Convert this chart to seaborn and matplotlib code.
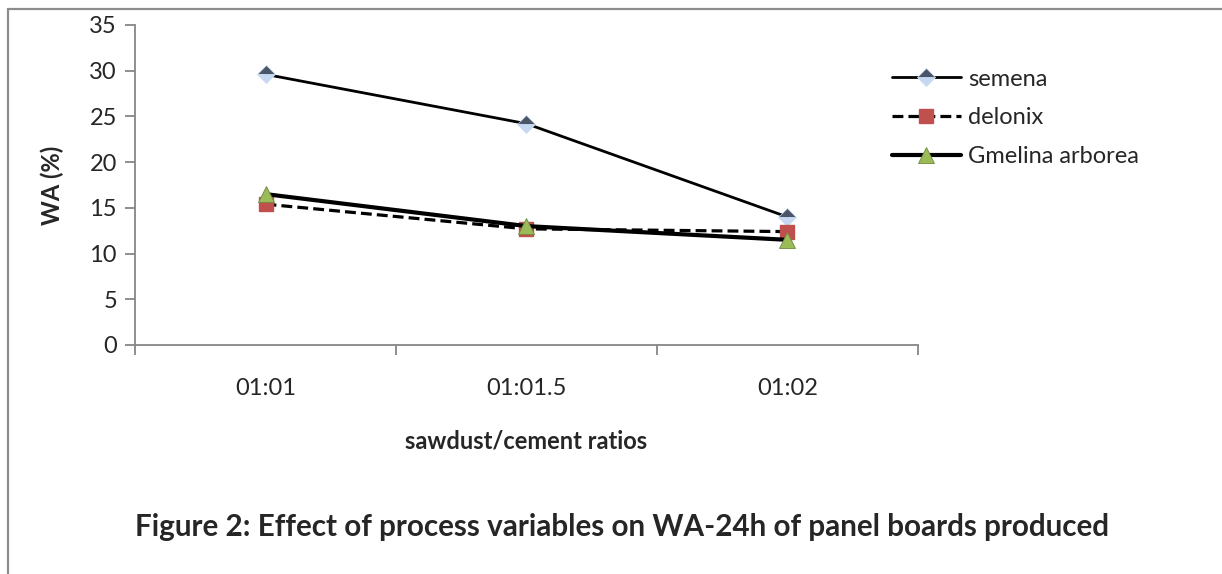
import pandas as pd
import matplotlib.pyplot as plt
import seaborn as sns
from matplotlib.lines import Line2D
from matplotlib.ticker import FixedLocator, NullFormatter

# データ
ratios = ['01:01', '01:01.5', '01:02']
semena = [29.6, 24.2, 14.0]
delonix = [15.4, 12.7, 12.4]
gmelina = [16.5, 13.0, 11.5]
series_names = ['semena', 'delonix', 'Gmelina arborea']

df = pd.DataFrame({
    'ratio': ratios * 3,
    'WA': semena + delonix + gmelina,
    'species': [n for n in series_names for _ in ratios],
})

sns.set_style('white')
plt.rcParams['font.family'] = ['Lato', 'DejaVu Sans']

fig = plt.figure(figsize=(12.22, 5.74), dpi=100)
ax = fig.add_axes([0.1105, 0.399, 0.6407, 0.5575])

grey = '#868686'
fs = 17
styles = {
    'semena': dict(color='black', lw=2.0, ls='-', marker='D', ms=9.5,
                   mfc='#4b5568', mfcalt='#c6d9f1', fillstyle='top', mec='#c6d9f1', mew=0.5),
    'delonix': dict(color='black', lw=2.3, ls=(0, (3.4, 1.6)), marker='s', ms=9.5,
                    mfc='#c0504d', mec='#c0504d'),
    'Gmelina arborea': dict(color='black', lw=3.0, ls='-', marker='^', ms=11,
                            mfc='#9bbb59', mec='#71893f', mew=0.6),
}

for name in series_names:
    sub = df[df['species'] == name]
    st = styles[name]
    sns.lineplot(data=sub, x='ratio', y='WA', ax=ax, label=name,
                 color=st['color'], linewidth=st['lw'], linestyle=st['ls'],
                 marker=st['marker'], markersize=st['ms'],
                 markerfacecolor=st['mfc'], markeredgecolor=st['mec'],
                 markeredgewidth=st.get('mew', 1.0),
                 fillstyle=st.get('fillstyle', 'full'),
                 markerfacecoloralt=st.get('mfcalt', 'none'))

ax.set_xlim(-0.5, 2.5)
ax.set_ylim(0, 35)
ax.set_yticks(range(0, 36, 5))
ax.set_xticks(range(len(ratios)))
ax.set_xticklabels(ratios)
ax.xaxis.set_minor_locator(FixedLocator([-0.5, 0.5, 1.5, 2.5]))
ax.xaxis.set_minor_formatter(NullFormatter())
ax.tick_params(axis='x', which='major', length=0, pad=24, labelsize=fs)
ax.tick_params(axis='x', which='minor', length=7, width=1.3, color=grey, direction='out', bottom=True)
ax.tick_params(axis='y', length=7, width=1.3, color=grey, direction='out', left=True, labelsize=fs, pad=6)

sns.despine(ax=ax)
for s in ['left', 'bottom']:
    ax.spines[s].set_color(grey)
    ax.spines[s].set_linewidth(1.3)

ax.set_xlabel('sawdust/cement ratios', fontsize=fs, fontweight='bold')
ax.set_ylabel('WA (%)', fontsize=fs, fontweight='bold', labelpad=18)
ax.xaxis.set_label_coords(0.5, -0.265)

leg = ax.legend(loc='upper left', bbox_to_anchor=(0.94, 0.93), frameon=False,
                fontsize=fs, handlelength=2.9, handletextpad=0.3, labelspacing=0.75)

fig.text(0.509, 0.082, 'Figure 2: Effect of process variables on WA-24h of panel boards produced',
         ha='center', va='center', fontsize=21.3, fontweight='bold')

# 外枠（左と上のみ）
fig.add_artist(Line2D([8 / 1222, 8 / 1222], [0, 1 - 9 / 574], transform=fig.transFigure, color='#8c8c8c', lw=1.6))
fig.add_artist(Line2D([8 / 1222, 1], [1 - 9 / 574, 1 - 9 / 574], transform=fig.transFigure, color='#8c8c8c', lw=1.6))

fig.savefig('out.png', dpi=100)
